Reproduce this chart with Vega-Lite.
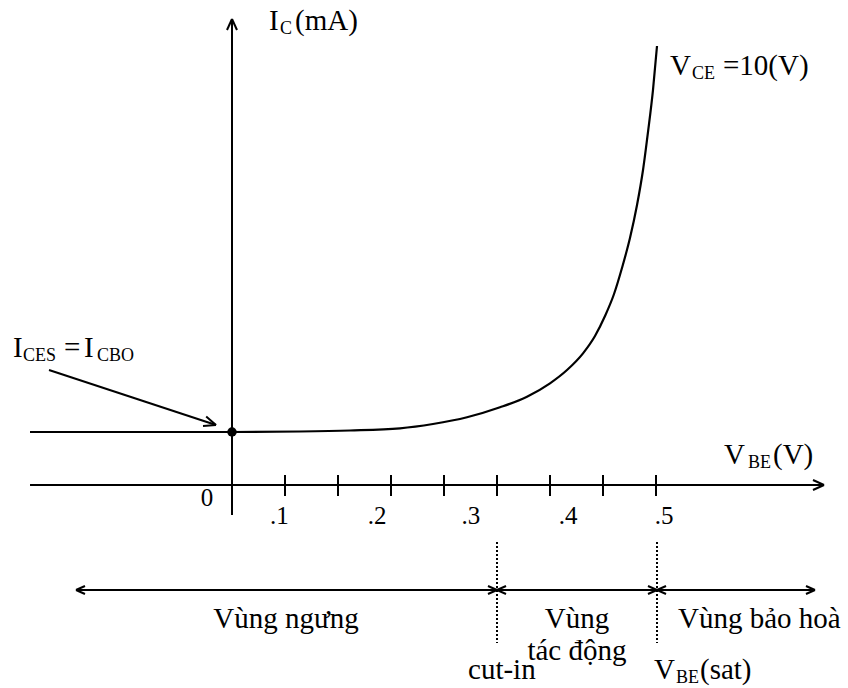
{
  "$schema": "https://vega.github.io/schema/vega-lite/v6.json",
  "width": 848,
  "height": 688,
  "autosize": {"type": "fit", "contains": "padding"},
  "padding": 0,
  "background": "white",
  "config": {"view": {"stroke": null}},
  "datasets": {
    "curve": [
      {"vbe": -0.3811, "ic": 1.093},
      {"vbe": 0, "ic": 1.093},
      {"vbe": 0.1283, "ic": 1.103},
      {"vbe": 0.2226, "ic": 1.124},
      {"vbe": 0.317, "ic": 1.169},
      {"vbe": 0.3792, "ic": 1.258},
      {"vbe": 0.4434, "ic": 1.396},
      {"vbe": 0.5057, "ic": 1.602},
      {"vbe": 0.5566, "ic": 1.821},
      {"vbe": 0.6, "ic": 2.097},
      {"vbe": 0.6321, "ic": 2.371},
      {"vbe": 0.6623, "ic": 2.715},
      {"vbe": 0.6849, "ic": 3.072},
      {"vbe": 0.7038, "ic": 3.485},
      {"vbe": 0.7208, "ic": 3.938},
      {"vbe": 0.7358, "ic": 4.474},
      {"vbe": 0.7509, "ic": 5.093},
      {"vbe": 0.7642, "ic": 5.773},
      {"vbe": 0.7755, "ic": 6.495},
      {"vbe": 0.7849, "ic": 7.278},
      {"vbe": 0.7943, "ic": 8.144},
      {"vbe": 0.8019, "ic": 9.052}
    ],
    "point": [{"vbe": 0, "ic": 1.093}],
    "segments": [
      {"x0": 0, "y0": 9.608, "x1": 0, "y1": -0.619, "g": "solid"},
      {"x0": -0.00943, "y0": 9.381, "x1": 0, "y1": 9.608, "g": "solid"},
      {"x0": 0.00943, "y0": 9.381, "x1": 0, "y1": 9.608, "g": "solid"},
      {"x0": -0.3811, "y0": 0, "x1": 1.117, "y1": 0, "g": "solid"},
      {"x0": 1.0962, "y0": 0.103, "x1": 1.117, "y1": 0, "g": "solid"},
      {"x0": 1.0962, "y0": -0.103, "x1": 1.117, "y1": 0, "g": "solid"},
      {"x0": 0.1, "y0": 0.206, "x1": 0.1, "y1": -0.227, "g": "solid"},
      {"x0": 0.2, "y0": 0.206, "x1": 0.2, "y1": -0.227, "g": "solid"},
      {"x0": 0.3, "y0": 0.206, "x1": 0.3, "y1": -0.227, "g": "solid"},
      {"x0": 0.4, "y0": 0.206, "x1": 0.4, "y1": -0.227, "g": "solid"},
      {"x0": 0.5, "y0": 0.206, "x1": 0.5, "y1": -0.227, "g": "solid"},
      {"x0": 0.6, "y0": 0.206, "x1": 0.6, "y1": -0.227, "g": "solid"},
      {"x0": 0.7, "y0": 0.206, "x1": 0.7, "y1": -0.227, "g": "solid"},
      {"x0": 0.8, "y0": 0.206, "x1": 0.8, "y1": -0.227, "g": "solid"},
      {"x0": -0.3453, "y0": 2.371, "x1": -0.0302, "y1": 1.237, "g": "solid"},
      {"x0": -0.0547, "y0": 1.216, "x1": -0.0302, "y1": 1.237, "g": "solid"},
      {"x0": -0.0487, "y0": 1.412, "x1": -0.0302, "y1": 1.237, "g": "solid"},
      {"x0": -0.2943, "y0": -2.165, "x1": 1.1, "y1": -2.165, "g": "solid"},
      {"x0": -0.2774, "y0": -2.0825, "x1": -0.2943, "y1": -2.165, "g": "solid"},
      {"x0": -0.2774, "y0": -2.2475, "x1": -0.2943, "y1": -2.165, "g": "solid"},
      {"x0": 0.483, "y0": -2.0825, "x1": 0.5, "y1": -2.165, "g": "solid"},
      {"x0": 0.483, "y0": -2.2475, "x1": 0.5, "y1": -2.165, "g": "solid"},
      {"x0": 0.517, "y0": -2.0825, "x1": 0.5, "y1": -2.165, "g": "solid"},
      {"x0": 0.517, "y0": -2.2475, "x1": 0.5, "y1": -2.165, "g": "solid"},
      {"x0": 0.7849, "y0": -2.0825, "x1": 0.8019, "y1": -2.165, "g": "solid"},
      {"x0": 0.7849, "y0": -2.2475, "x1": 0.8019, "y1": -2.165, "g": "solid"},
      {"x0": 0.8189, "y0": -2.0825, "x1": 0.8019, "y1": -2.165, "g": "solid"},
      {"x0": 0.8189, "y0": -2.2475, "x1": 0.8019, "y1": -2.165, "g": "solid"},
      {"x0": 1.083, "y0": -2.0825, "x1": 1.1, "y1": -2.165, "g": "solid"},
      {"x0": 1.083, "y0": -2.2475, "x1": 1.1, "y1": -2.165, "g": "solid"},
      {"x0": 0.5, "y0": -1.175, "x1": 0.5, "y1": -3.258, "g": "dotted"},
      {"x0": 0.8019, "y0": -1.175, "x1": 0.8019, "y1": -3.258, "g": "dotted"}
    ],
    "labelsLeft": [
      {"x": 0.0698, "y": 9.381, "t": "I", "r": "main"},
      {"x": 0.0906, "y": 9.299, "t": "C", "r": "sub"},
      {"x": 0.1189, "y": 9.381, "t": "(mA)", "r": "main"},
      {"x": -0.4132, "y": 2.639, "t": "I", "r": "main"},
      {"x": -0.3943, "y": 2.557, "t": "CES", "r": "sub"},
      {"x": -0.317, "y": 2.639, "t": "=", "r": "main"},
      {"x": -0.2792, "y": 2.639, "t": "I", "r": "main"},
      {"x": -0.2547, "y": 2.557, "t": "CBO", "r": "sub"},
      {"x": 0.8264, "y": 8.454, "t": "V", "r": "main"},
      {"x": 0.8679, "y": 8.371, "t": "CE", "r": "sub"},
      {"x": 0.9264, "y": 8.454, "t": "=10(V)", "r": "main"},
      {"x": 0.9283, "y": 0.433, "t": "V", "r": "main"},
      {"x": 0.9736, "y": 0.3505, "t": "BE", "r": "sub"},
      {"x": 1.0208, "y": 0.433, "t": "(V)", "r": "main"},
      {"x": 0.8415, "y": -2.948, "t": "Vùng bảo hoà", "r": "main"},
      {"x": 0.4453, "y": -4.0, "t": "cut-in", "r": "main"},
      {"x": 0.7962, "y": -4.0, "t": "V", "r": "main"},
      {"x": 0.8377, "y": -4.082, "t": "BE", "r": "sub"},
      {"x": 0.883, "y": -4.0, "t": "(sat)", "r": "main"}
    ],
    "labelsCenter": [
      {"x": -0.0472, "y": -0.433, "t": "0", "r": "tick"},
      {"x": 0.0896, "y": -0.804, "t": ".1", "r": "tick"},
      {"x": 0.2736, "y": -0.804, "t": ".2", "r": "tick"},
      {"x": 0.4509, "y": -0.804, "t": ".3", "r": "tick"},
      {"x": 0.634, "y": -0.804, "t": ".4", "r": "tick"},
      {"x": 0.8151, "y": -0.804, "t": ".5", "r": "tick"},
      {"x": 0.1019, "y": -2.948, "t": "Vùng ngưng", "r": "main"},
      {"x": 0.6509, "y": -2.948, "t": "Vùng", "r": "main"},
      {"x": 0.6509, "y": -3.608, "t": "tác động", "r": "main"}
    ]
  },
  "encoding": {
    "x": {"type": "quantitative", "scale": {"domain": [-0.437736, 1.162264], "nice": false, "zero": false}, "axis": null},
    "y": {"type": "quantitative", "scale": {"domain": [-4.18557, 10], "nice": false, "zero": false}, "axis": null}
  },
  "layer": [
    {
      "data": {"name": "segments"},
      "transform": [{"filter": "datum.g === 'solid'"}],
      "mark": {"type": "rule", "color": "black", "strokeWidth": 2},
      "encoding": {
        "x": {"field": "x0", "type": "quantitative"},
        "y": {"field": "y0", "type": "quantitative"},
        "x2": {"field": "x1"},
        "y2": {"field": "y1"}
      }
    },
    {
      "data": {"name": "segments"},
      "transform": [{"filter": "datum.g === 'dotted'"}],
      "mark": {"type": "rule", "color": "black", "strokeWidth": 2, "strokeDash": [2, 2]},
      "encoding": {
        "x": {"field": "x0", "type": "quantitative"},
        "y": {"field": "y0", "type": "quantitative"},
        "x2": {"field": "x1"},
        "y2": {"field": "y1"}
      }
    },
    {
      "data": {"name": "curve"},
      "mark": {"type": "line", "color": "black", "strokeWidth": 2.2, "interpolate": "monotone"},
      "encoding": {
        "x": {"field": "vbe", "type": "quantitative"},
        "y": {"field": "ic", "type": "quantitative"}
      }
    },
    {
      "data": {"name": "point"},
      "mark": {"type": "point", "filled": true, "color": "black", "size": 90, "opacity": 1},
      "encoding": {
        "x": {"field": "vbe", "type": "quantitative"},
        "y": {"field": "ic", "type": "quantitative"}
      }
    },
    {
      "data": {"name": "labelsLeft"},
      "transform": [{"filter": "datum.r === 'main'"}],
      "mark": {"type": "text", "align": "left", "baseline": "alphabetic", "font": "Liberation Serif", "fontSize": 29, "color": "black"},
      "encoding": {
        "x": {"field": "x", "type": "quantitative"},
        "y": {"field": "y", "type": "quantitative"},
        "text": {"field": "t"}
      }
    },
    {
      "data": {"name": "labelsLeft"},
      "transform": [{"filter": "datum.r === 'sub'"}],
      "mark": {"type": "text", "align": "left", "baseline": "alphabetic", "font": "Liberation Serif", "fontSize": 18, "color": "black"},
      "encoding": {
        "x": {"field": "x", "type": "quantitative"},
        "y": {"field": "y", "type": "quantitative"},
        "text": {"field": "t"}
      }
    },
    {
      "data": {"name": "labelsCenter"},
      "transform": [{"filter": "datum.r === 'main'"}],
      "mark": {"type": "text", "align": "center", "baseline": "alphabetic", "font": "Liberation Serif", "fontSize": 29, "color": "black"},
      "encoding": {
        "x": {"field": "x", "type": "quantitative"},
        "y": {"field": "y", "type": "quantitative"},
        "text": {"field": "t"}
      }
    },
    {
      "data": {"name": "labelsCenter"},
      "transform": [{"filter": "datum.r === 'tick'"}],
      "mark": {"type": "text", "align": "center", "baseline": "alphabetic", "font": "Liberation Serif", "fontSize": 25, "color": "black"},
      "encoding": {
        "x": {"field": "x", "type": "quantitative"},
        "y": {"field": "y", "type": "quantitative"},
        "text": {"field": "t"}
      }
    }
  ]
}
